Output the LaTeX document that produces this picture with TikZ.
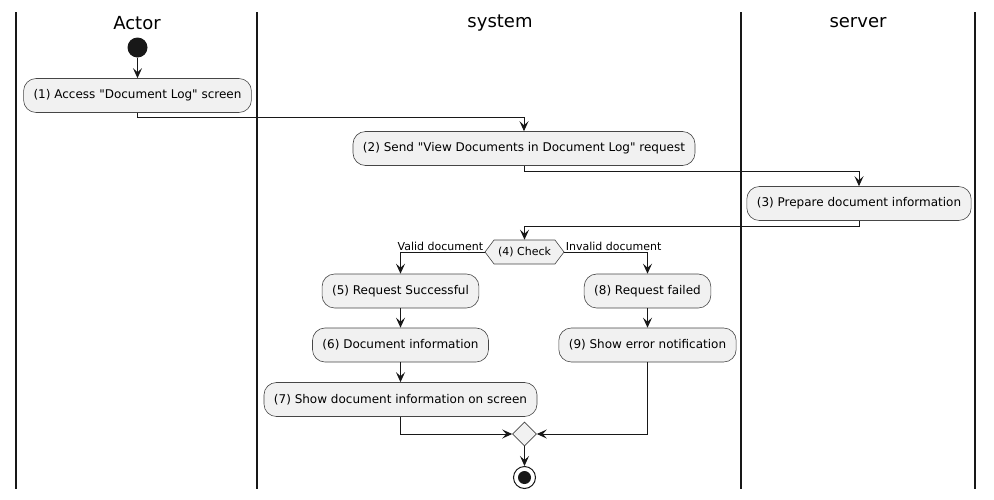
\documentclass[tikz,border=0pt]{standalone}
\usepackage{fontspec}
\setmainfont{DejaVu Sans}[Ligatures=TeXOff]
\usetikzlibrary{arrows.meta,shapes.geometric,shapes.symbols}
\definecolor{boxfill}{HTML}{F1F1F1}
\definecolor{ink}{HTML}{181818}

\begin{document}
\begin{tikzpicture}[x=1pt, y=-1pt,
  act/.style={draw=ink!80, fill=boxfill, line width=0.6pt, rounded corners=12.5pt,
    inner xsep=10pt, minimum height=34pt, font=\fontsize{12}{14}\selectfont},
  check/.style={draw=ink!80, fill=boxfill, line width=0.6pt, signal, signal to=west and east,
    signal pointer angle=106, inner xsep=4pt, minimum height=24pt, font=\fontsize{11}{13}\selectfont},
  merge/.style={draw=ink!80, fill=boxfill, line width=0.6pt, diamond, minimum size=24pt, inner sep=0pt},
  flow/.style={draw=ink, line width=1pt, -{Stealth[length=10pt, width=9pt, inset=4pt]}},
  lbl/.style={font=\fontsize{11}{13}\selectfont, inner sep=1pt},
  title/.style={font=\fontsize{18}{20}\selectfont}]
\useasboundingbox (0,0) rectangle (994,499);

% swimlanes
\foreach \x in {16,257,741,975}
  \draw[line width=1.5pt, ink] (\x,12) -- (\x,489);
\node[title] (tActor) at (137,23) {Actor};
\node[title] (tSystem) at (500,23) {system};
\node[title] (tServer) at (858,23) {server};

% start and end
\node[circle, fill=ink, minimum size=20pt, inner sep=0pt] (start) at (137.5,47.5) {};
\node[circle, draw=ink, line width=1pt, fill=white, minimum size=22pt, inner sep=0pt] (stop) at (524.5,477.5) {};
\node[circle, fill=ink, minimum size=13pt, inner sep=0pt] at (stop) {};

% actions
\node[act] (a1) at (137.5,95.5) {(1) Access "Document Log" screen};
\node[act] (a2) at (524,148.5) {(2) Send "View Documents in Document Log" request};
\node[act] (a3) at (859,203.5) {(3) Prepare document information};
\node[check] (a4) at (524.5,252) {(4) Check};
\node[act] (a5) at (400.5,291) {(5) Request Successful};
\node[act] (a6) at (400.5,345) {(6) Document information};
\node[act] (a7) at (400.5,399.5) {(7) Show document information on screen};
\node[act] (a8) at (647.5,291) {(8) Request failed};
\node[act] (a9) at (647.5,345) {(9) Show error notification};
\node[merge] (m) at (524.5,434) {};

% connectors
\draw[flow] (start) -- (a1);
\draw[flow] (a1.south) -- ++(0,5) -| (a2.north);
\draw[flow] (a2.south) -- ++(0,6) -| (a3.north);
\draw[flow] (a3.south) -- ++(0,6) -| (a4.north);
\draw[flow] (a4.west) -| node[lbl, pos=0, above left] {Valid document} (a5.north);
\draw[flow] (a4.east) -| node[lbl, pos=0, above right] {Invalid document} (a8.north);
\draw[flow] (a5) -- (a6);
\draw[flow] (a6) -- (a7);
\draw[flow] (a8) -- (a9);
\draw[flow] (a7.south) |- (m.west);
\draw[flow] (a9.south) |- (m.east);
\draw[flow] (m.south) -- (stop);
\end{tikzpicture}
\end{document}
